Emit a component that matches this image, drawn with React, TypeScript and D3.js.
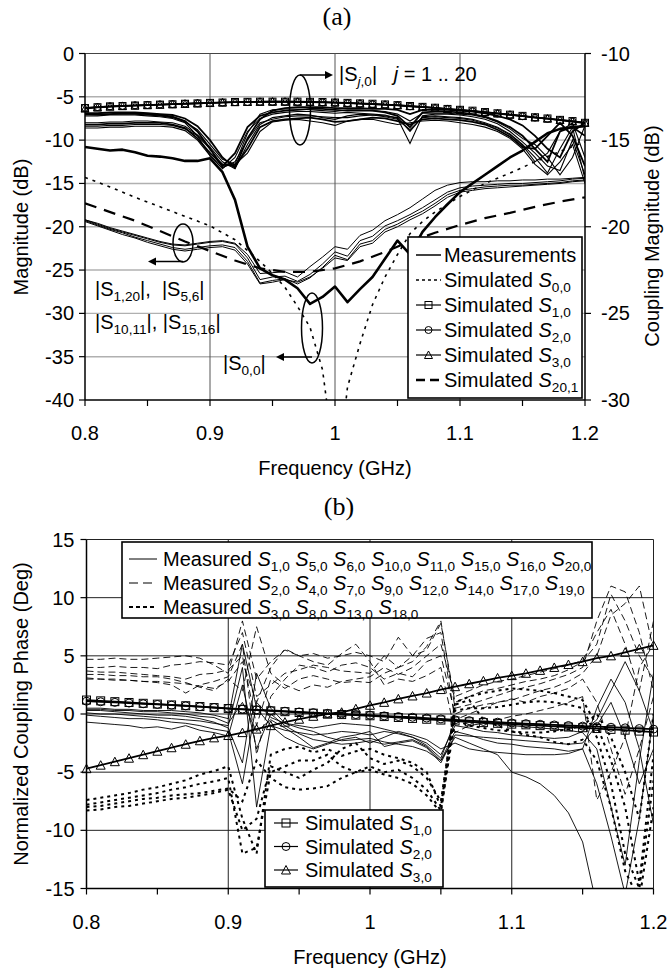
import * as d3 from 'd3'

// frequency grid (GHz)
const FREQ = [0.80, 0.81, 0.82, 0.83, 0.84, 0.85, 0.86, 0.87, 0.88, 0.89, 0.90, 0.91, 0.92, 0.93, 0.94, 0.95, 0.96, 0.97, 0.98, 0.99, 1.00,
  1.01, 1.02, 1.03, 1.04, 1.05, 1.06, 1.07, 1.08, 1.09, 1.10, 1.11, 1.12, 1.13, 1.14, 1.15, 1.16, 1.17, 1.18, 1.19, 1.20]
const FREQ_TICKS = [0.8, 0.9, 1.0, 1.1, 1.2]
const FREQ_LABELS = ['0.8', '0.9', '1', '1.1', '1.2']
const FREQ_MINOR = [0.8, 0.85, 0.9, 0.95, 1.0, 1.05, 1.1, 1.15, 1.2]
const MAG_TICKS = [0, -5, -10, -15, -20, -25, -30, -35, -40]
const COUPLING_TICKS = [-10, -15, -20, -25, -30]
const PHASE_TICKS = [15, 10, 5, 0, -5, -10, -15]

// ---- (a) magnitude, left axis (dB)
const MEAS_S00 = [-10.8, -11.0, -11.2, -11.1, -11.4, -11.8, -11.9, -12.1, -12.4, -12.4, -12.1, -13.7, -16.9, -22.3, -24.8, -25.6, -26.1, -27.1, -28.9, -28.1, -26.9,
  -28.7, -27.2, -25.8, -23.7, -21.6, -23.2, -20.6, -18.9, -17.4, -16.0, -15.0, -14.0, -13.0, -12.0, -11.2, -10.2, -9.2, -8.7, -8.5, -8.4]
const MEAS_S1_20 = [-19.2, -19.7, -20.2, -20.6, -21.0, -21.4, -21.8, -22.1, -22.2, -22.0, -21.8, -21.7, -22.0, -23.6, -26.1, -25.8, -25.7, -26.3, -25.5, -24.3, -22.9,
  -23.4, -21.6, -21.1, -19.9, -19.3, -18.6, -17.8, -16.9, -16.0, -15.5, -15.3, -15.2, -15.1, -15.0, -15.0, -14.9, -14.8, -14.7, -14.5, -14.4]
const MEAS_S5_6 = [-19.3, -19.8, -20.3, -20.7, -21.2, -21.6, -22.0, -22.4, -22.6, -22.4, -22.2, -22.1, -22.4, -24.0, -26.5, -26.2, -26.0, -26.6, -25.9, -24.7, -23.3,
  -23.8, -22.0, -21.6, -20.3, -19.7, -18.9, -18.2, -17.3, -16.3, -15.8, -15.6, -15.4, -15.3, -15.2, -15.2, -15.1, -15.0, -14.9, -14.7, -14.6]
const MEAS_S10_11 = [-19.4, -19.9, -20.4, -20.9, -21.3, -21.8, -22.2, -22.6, -22.8, -22.6, -22.4, -22.3, -22.7, -24.3, -26.6, -26.4, -26.1, -26.4, -25.8, -24.8, -23.6,
  -23.9, -22.3, -21.9, -20.6, -20.0, -19.2, -18.5, -17.6, -16.6, -16.0, -15.8, -15.6, -15.5, -15.4, -15.3, -15.2, -15.1, -15.0, -14.8, -14.7]
const MEAS_S15_16 = [-19.2, -19.6, -20.1, -20.5, -20.9, -21.3, -21.7, -22.0, -22.1, -21.9, -21.7, -21.6, -21.9, -23.2, -25.4, -25.3, -25.2, -25.8, -24.6, -23.5, -22.3,
  -22.6, -21.0, -20.4, -19.3, -18.6, -17.8, -16.8, -15.8, -15.2, -14.9, -14.8, -14.8, -14.7, -14.7, -14.6, -14.6, -14.5, -14.5, -14.4, -14.3]
const SIM_S00_FREQ = [0.80, 0.82, 0.84, 0.86, 0.88, 0.90, 0.92, 0.94, 0.95, 0.96, 0.97, 0.98, 0.99, 0.995, 1.00, 1.005, 1.01, 1.02, 1.03, 1.04, 1.05, 1.06, 1.07, 1.08, 1.10, 1.12, 1.14, 1.16, 1.18, 1.20]
const SIM_S00 = [-14.3, -15.4, -16.6, -17.7, -18.8, -19.9, -21.5, -24.0, -25.4, -27.0, -29.2, -31.6, -36.5, -42.0, -55.0, -45.0, -38.5, -33.5, -29.0, -25.8, -23.2, -20.8, -19.4, -18.3, -16.5, -15.0, -13.8, -12.5, -11.3, -10.2]
const SIM_S20_1_FREQ = [0.80, 0.84, 0.86, 0.88, 0.90, 0.92, 0.94, 0.96, 0.98, 1.00, 1.02, 1.04, 1.06, 1.08, 1.10, 1.12, 1.14, 1.16, 1.18, 1.20]
const SIM_S20_1 = [-17.3, -19.3, -20.5, -21.7, -22.8, -23.9, -24.8, -25.2, -25.2, -24.8, -24.0, -22.9, -21.7, -20.7, -19.8, -19.0, -18.4, -17.7, -17.1, -16.6]

// ---- (a) coupling magnitude, right axis (dB)
const SIM_C10 = [-13.15, -13.1, -13.05, -13.03, -13.0, -12.98, -12.95, -12.93, -12.9, -12.88, -12.85, -12.83, -12.8, -12.79, -12.78, -12.78, -12.78, -12.78, -12.79, -12.8, -12.83,
  -12.85, -12.88, -12.9, -12.94, -12.98, -13.03, -13.08, -13.13, -13.2, -13.25, -13.3, -13.38, -13.45, -13.53, -13.6, -13.68, -13.75, -13.83, -13.9, -14.0]
const SIM_C20 = [-13.13, -13.09, -13.05, -13.02, -12.99, -12.97, -12.94, -12.92, -12.89, -12.87, -12.85, -12.83, -12.81, -12.8, -12.79, -12.79, -12.79, -12.8, -12.81, -12.82, -12.84,
  -12.87, -12.9, -12.93, -12.96, -13.0, -13.05, -13.1, -13.15, -13.21, -13.27, -13.33, -13.4, -13.47, -13.54, -13.62, -13.7, -13.77, -13.85, -13.93, -14.02]
const SIM_C30 = [-13.18, -13.12, -13.07, -13.04, -13.01, -12.98, -12.96, -12.93, -12.91, -12.88, -12.86, -12.83, -12.81, -12.8, -12.79, -12.78, -12.78, -12.79, -12.8, -12.81, -12.83,
  -12.86, -12.89, -12.92, -12.95, -12.99, -13.04, -13.09, -13.14, -13.2, -13.26, -13.32, -13.39, -13.46, -13.53, -13.61, -13.69, -13.76, -13.84, -13.92, -14.0]
const MEAS_C_A = [-13.45, -13.45, -13.4, -13.4, -13.4, -13.45, -13.5, -13.55, -13.75, -14.2, -15.0, -16.0, -16.6, -14.9, -13.8, -13.3, -13.15, -13.1, -13.1, -13.1, -13.15,
  -13.15, -13.15, -13.2, -13.2, -13.25, -13.5, -13.25, -13.25, -13.25, -13.3, -13.35, -13.45, -13.6, -13.8, -14.15, -14.75, -15.5, -16.0, -14.5, -14.0]
const MEAS_C_B = [-13.5, -13.5, -13.5, -13.45, -13.45, -13.5, -13.55, -13.65, -13.9, -14.5, -15.5, -16.5, -15.75, -14.25, -13.6, -13.4, -13.3, -13.25, -13.2, -13.2, -13.25,
  -13.3, -13.3, -13.3, -13.4, -13.6, -14.25, -13.4, -13.35, -13.35, -13.4, -13.5, -13.65, -13.9, -14.25, -14.75, -15.5, -16.25, -14.5, -14.25, -14.75]
const MEAS_C_C = [-13.6, -13.6, -13.55, -13.55, -13.55, -13.6, -13.65, -13.75, -14.0, -14.75, -15.9, -16.65, -16.0, -14.5, -13.75, -13.5, -13.4, -13.35, -13.35, -13.4, -13.45,
  -13.4, -13.45, -13.5, -13.55, -13.75, -15.2, -13.6, -13.5, -13.5, -13.55, -13.65, -13.8, -14.05, -14.5, -15.1, -15.75, -16.5, -16.75, -15.0, -17.0]
const MEAS_C_D = [-14.0, -14.0, -13.95, -13.95, -13.9, -13.9, -13.95, -14.0, -14.2, -14.7, -15.4, -16.25, -16.65, -15.25, -14.1, -13.7, -13.6, -13.5, -13.55, -13.7, -13.8,
  -13.6, -13.5, -13.55, -13.6, -13.7, -14.5, -13.65, -13.6, -13.65, -13.7, -13.8, -14.0, -14.25, -14.65, -15.25, -16.0, -16.9, -15.5, -14.25, -17.25]
const MEAS_C_E = [-14.1, -14.1, -14.05, -14.05, -14.0, -14.0, -14.0, -14.1, -14.3, -14.9, -15.75, -16.4, -16.5, -15.5, -14.25, -13.9, -13.8, -13.75, -13.7, -13.8, -13.95,
  -13.9, -13.8, -13.7, -13.75, -13.9, -14.1, -13.8, -13.75, -13.8, -13.85, -13.95, -14.1, -14.4, -14.8, -15.4, -15.5, -14.75, -14.0, -14.75, -16.5]
const MEAS_C_F = [-14.2, -14.2, -14.15, -14.15, -14.1, -14.1, -14.1, -14.15, -14.35, -14.75, -15.5, -16.6, -16.25, -15.0, -14.0, -13.8, -13.65, -13.6, -13.6, -13.65, -13.7,
  -13.7, -13.6, -13.55, -13.65, -13.8, -14.4, -13.7, -13.65, -13.7, -13.75, -13.85, -14.05, -14.3, -14.7, -15.3, -16.25, -15.75, -14.5, -14.0, -16.0]
const MEAS_C_G = [-14.3, -14.3, -14.25, -14.25, -14.2, -14.2, -14.2, -14.25, -14.45, -15.0, -15.9, -16.5, -16.4, -15.75, -14.5, -13.95, -13.85, -13.8, -13.9, -14.0, -14.15,
  -13.9, -13.8, -13.8, -13.95, -14.1, -14.0, -13.9, -13.85, -13.9, -14.0, -14.1, -14.25, -14.5, -14.9, -15.5, -16.4, -17.0, -16.25, -15.25, -17.5]
const MEAS_C_H = [-13.5, -13.55, -13.5, -13.5, -13.5, -13.55, -13.6, -13.7, -13.95, -14.4, -15.25, -16.1, -16.4, -14.6, -13.5, -13.25, -13.2, -13.2, -13.25, -13.3, -13.35,
  -13.25, -13.25, -13.3, -13.35, -13.5, -13.9, -13.45, -13.45, -13.45, -13.5, -13.55, -13.7, -13.95, -14.35, -14.9, -15.25, -16.0, -17.0, -16.0, -14.15]

// ---- (b) normalized coupling phase (deg)
const SIM_P10 = [1.20, 1.13, 1.06, 0.99, 0.92, 0.85, 0.78, 0.71, 0.64, 0.55, 0.47, 0.40, 0.33, 0.27, 0.20, 0.13, 0.07, 0.01, -0.05, -0.10, -0.15,
  -0.22, -0.30, -0.38, -0.45, -0.52, -0.60, -0.67, -0.74, -0.80, -0.87, -0.93, -1.00, -1.06, -1.12, -1.18, -1.25, -1.32, -1.39, -1.47, -1.55]
const SIM_P20 = [1.10, 1.05, 1.00, 0.94, 0.88, 0.82, 0.76, 0.70, 0.63, 0.56, 0.49, 0.42, 0.36, 0.30, 0.24, 0.18, 0.12, 0.06, 0.00, -0.05, -0.10,
  -0.16, -0.22, -0.28, -0.35, -0.42, -0.50, -0.57, -0.64, -0.70, -0.77, -0.83, -0.88, -0.94, -0.99, -1.04, -1.09, -1.14, -1.19, -1.25, -1.30]
const SIM_P30 = [-4.7, -4.4, -4.1, -3.8, -3.5, -3.2, -2.9, -2.6, -2.3, -2.05, -1.85, -1.6, -1.3, -1.0, -0.7, -0.45, -0.2, 0.0, 0.15, 0.45, 0.75,
  1.0, 1.3, 1.55, 1.8, 2.1, 2.35, 2.6, 2.85, 3.1, 3.3, 3.5, 3.75, 4.0, 4.25, 4.5, 4.8, 5.0, 5.3, 5.6, 5.9]
const SOLID_1 = [0.5, 0.5, 0.4, 0.4, 0.3, 0.3, 0.3, 0.2, 0.1, -0.1, -0.4, 6.0, 0.5, -1.0, -1.4, -1.6, -1.8, -1.7, -1.5, -1.6, -1.8,
  -1.5, -1.7, -2.0, -2.5, -3.5, -1.0, -1.2, -1.5, -1.6, -1.8, -1.9, -2.0, -2.1, -2.0, -1.5, -0.5, 2.0, 4.5, 2.0, -1.5]
const SOLID_2 = [0.3, 0.3, 0.2, 0.1, 0.0, -0.1, -0.1, -0.2, -0.4, -0.7, -1.2, -4.2, 3.5, 0.5, -0.8, -1.2, -1.5, -2.0, -2.3, -2.2, -2.1,
  -2.4, -2.6, -2.8, -3.2, -4.0, -1.5, -1.8, -2.2, -2.5, -2.6, -2.8, -2.9, -3.0, -3.2, -3.0, -6.0, -10.5, -15.5, -9.0, 0.0]
const SOLID_3 = [0.1, 0.0, 0.0, -0.1, -0.2, -0.3, -0.4, -0.5, -0.6, -0.8, -1.0, 4.0, -8.0, -1.0, -2.0, -2.6, -3.0, -2.6, -2.2, -2.0, -2.5,
  -2.0, -1.5, -1.8, -2.2, -3.0, -2.5, -3.0, -3.2, -3.3, -3.4, -3.5, -3.5, -3.5, -3.4, -3.0, 0.5, 3.0, 1.0, -3.0, -9.5]
const SOLID_4 = [-0.1, -0.2, -0.3, -0.4, -0.4, -0.5, -0.7, -0.8, -1.0, -1.3, -1.5, -6.0, 1.0, -0.3, -0.8, -1.0, -1.2, -1.0, -0.8, -0.9, -1.0,
  -1.3, -1.6, -2.0, -2.7, -3.8, -0.6, -0.7, -0.8, -0.9, -1.0, -1.1, -1.2, -1.3, -1.4, -1.6, -3.0, -8.0, -13.0, -4.0, 3.5]
const SOLID_5 = [-0.7, -0.8, -0.9, -1.0, -1.2, -1.1, -1.3, -1.0, -1.4, -1.6, -1.9, 2.5, -3.0, 0.0, -1.0, -1.7, -2.2, -2.4, -2.6, -2.5, -2.3,
  -2.6, -2.4, -2.2, -2.8, -4.0, -2.0, -2.5, -3.0, -3.5, -5.0, -5.4, -6.0, -7.0, -8.5, -11.0, -16.5, -18.0, -20.0, -22.0, -22.0]
const SOLID_6 = [0.4, 0.4, 0.3, 0.3, 0.2, 0.2, 0.1, 0.0, -0.2, -0.3, -0.8, 1.0, -1.5, -0.5, -1.2, -2.0, -2.9, -2.5, -2.0, -1.8, -1.5,
  -2.8, -2.5, -2.3, -2.9, -4.2, -1.8, -1.9, -2.0, -2.1, -2.2, -2.3, -2.4, -2.5, -2.6, -2.5, -1.0, 1.0, -2.0, -6.0, -3.0]
const LDASH_1 = [4.7, 4.7, 4.8, 4.7, 4.7, 4.8, 4.9, 5.0, 4.8, 4.2, 3.5, 8.0, 3.0, 4.5, 5.5, 5.0, 5.2, 4.8, 5.0, 5.3, 5.0,
  4.5, 6.6, 5.0, 5.5, 7.8, 1.0, 1.5, 2.0, 2.2, 2.5, 2.8, 3.0, 3.3, 3.8, 4.5, 6.0, 10.3, 8.0, 5.0, 3.0]
const LDASH_2 = [4.0, 4.0, 4.1, 4.0, 4.0, 3.9, 4.2, 4.3, 4.5, 4.4, 4.2, 7.0, 1.5, 2.5, 3.5, 3.8, 4.2, 4.0, 3.7, 3.6, 3.5,
  5.0, 4.0, 4.5, 5.8, 8.0, 0.5, 0.8, 1.2, 1.6, 2.0, 2.3, 2.6, 3.0, 3.4, 4.0, 8.0, 11.0, 10.5, 7.0, 2.0]
const LDASH_3 = [3.7, 3.6, 3.6, 3.5, 3.4, 3.3, 3.2, 3.0, 3.4, 3.5, 3.8, 5.0, -1.0, 3.0, 2.2, 3.0, 3.3, 3.0, 2.7, 2.8, 2.7,
  3.5, 4.0, 5.0, 6.5, 7.0, -0.5, 0.0, 0.5, 1.0, 1.2, 1.6, 2.0, 2.3, 2.8, 3.5, 5.0, 8.5, 9.5, 11.0, 5.5]
const LDASH_4 = [3.4, 3.4, 3.3, 3.3, 3.2, 3.2, 3.0, 2.7, 2.3, 2.0, 3.0, 2.0, 7.5, 3.5, 2.5, 2.0, 2.5, 2.3, 2.8, 3.0, 3.2,
  4.0, 3.4, 4.0, 5.0, 6.0, 1.5, 2.0, 2.5, 2.8, 3.0, 3.3, 3.6, 3.9, 4.2, 4.6, 7.0, 9.0, 6.0, 2.0, 8.0]
const LDASH_5 = [3.1, 3.0, 3.0, 2.9, 2.8, 2.7, 2.5, 1.8, 2.5, 2.8, 3.2, 6.0, -3.5, 1.5, 3.0, 4.2, 4.0, 3.6, 4.2, 4.4, 4.0,
  3.0, 3.5, 3.2, 4.5, 5.0, 0.0, 0.5, 0.8, 1.0, 1.3, 1.0, 1.5, 1.8, 2.2, 3.0, 1.0, -3.0, -6.9, -3.0, 1.5]
const LDASH_6 = [3.0, 3.0, 2.9, 2.9, 2.8, 2.8, 2.7, 2.6, 2.4, 2.2, 2.8, 4.5, 1.0, 4.0, 5.6, 5.0, 4.5, 4.2, 5.2, 6.0, 4.5,
  2.5, 3.0, 2.8, 3.3, 4.0, -1.6, -1.0, -0.8, -0.5, -0.2, 0.0, 0.3, 0.6, 1.0, 1.5, -7.4, -5.0, -2.0, 4.0, 6.0]
const SDASH_1 = [-7.4, -7.2, -7.0, -6.8, -6.5, -6.3, -6.0, -5.7, -5.2, -4.9, -4.5, -9.0, -12.0, -3.5, -3.0, -2.8, -3.3, -3.0, -3.6, -3.2, -3.0,
  -3.5, -3.8, -4.2, -5.0, -8.0, 1.0, 1.5, 1.8, 2.0, 2.2, 2.1, 2.0, 1.8, 1.5, 1.2, -1.0, -4.0, -8.0, -14.5, -3.5]
const SDASH_2 = [-7.8, -7.6, -7.4, -7.2, -7.0, -6.8, -6.5, -6.3, -6.0, -5.8, -5.5, -12.0, -11.5, -5.0, -4.5, -4.0, -4.0, -3.5, -4.5, -5.0, -4.8,
  -5.2, -5.5, -6.0, -7.0, -8.5, 0.3, 0.5, 0.5, 0.6, 0.8, 1.0, 1.1, 1.0, 0.8, 0.5, -2.0, -6.0, -12.0, -15.0, -5.7]
const SDASH_3 = [-8.0, -7.9, -7.7, -7.5, -7.3, -7.2, -7.0, -6.9, -6.8, -6.6, -6.4, -7.5, -4.0, -5.5, -6.3, -6.5, -6.4, -6.2, -5.5, -5.0, -4.5,
  -5.0, -4.8, -5.5, -6.5, -8.3, -0.5, -1.0, -1.2, -1.4, -1.5, -1.6, -1.6, -1.5, -1.3, -1.0, 0.0, -2.0, -5.0, -9.0, 0.0]
const SDASH_4 = [-8.3, -8.2, -8.0, -7.9, -7.7, -7.5, -7.3, -7.2, -7.0, -6.8, -6.5, -10.0, -9.0, -4.5, -5.0, -5.5, -4.8, -4.2, -3.0, -2.5, -3.8,
  -4.3, -4.0, -4.5, -5.5, -7.5, 0.8, 1.2, -0.5, -1.0, -1.5, -1.8, -2.0, -2.4, -2.6, -2.2, -4.0, -8.0, -13.5, -16.0, -8.0]

const LEGEND_SOLID_IDS = ['1,0', '5,0', '6,0', '10,0', '11,0', '15,0', '16,0', '20,0']
const LEGEND_LDASH_IDS = ['2,0', '4,0', '7,0', '9,0', '12,0', '14,0', '17,0', '19,0']
const LEGEND_SDASH_IDS = ['3,0', '8,0', '13,0', '18,0']

type Part = { t: string; it?: boolean; sub?: boolean }

function Rich({ x, y, parts, size = 20, anchor = 'start' }: { x: number; y: number; parts: Part[]; size?: number; anchor?: string }) {
  let shift = 0
  return (
    <text x={x} y={y} fontSize={size} textAnchor={anchor} style={{ whiteSpace: 'pre' }}>
      {parts.map((p, i) => {
        const target = p.sub ? size * 0.27 : 0
        const dy = target - shift
        shift = target
        return (
          <tspan key={i} dy={dy} fontStyle={p.it ? 'italic' : 'normal'} fontSize={p.sub ? size * 0.68 : size}>{p.t}</tspan>
        )
      })}
    </text>
  )
}

function Marker({ kind, x, y, s = 8 }: { kind: string; x: number; y: number; s?: number }) {
  const h = s / 2
  if (kind === 'square') return <rect x={x - h} y={y - h} width={s} height={s} fill="none" stroke="#000" strokeWidth={1} />
  if (kind === 'circle') return <circle cx={x} cy={y} r={h} fill="none" stroke="#000" strokeWidth={1} />
  return <path d={`M${x},${y - h - 0.5}L${x + h + 0.5},${y + h}L${x - h - 0.5},${y + h}Z`} fill="none" stroke="#000" strokeWidth={1} />
}

const measParts = (ids: string[]): Part[] => [
  { t: 'Measured ' },
  ...ids.flatMap((id, k) => [{ t: (k ? ' ' : '') + 'S', it: true }, { t: id, sub: true }]),
]

export default function App() {
  // panel (a)
  const xA = d3.scaleLinear().domain([0.8, 1.2]).range([85, 585])
  const yA = d3.scaleLinear().domain([-40, 0]).range([400, 53.5])
  const yA2 = d3.scaleLinear().domain([-30, -10]).range([400, 53.5])
  // panel (b)
  const xB = d3.scaleLinear().domain([0.8, 1.2]).range([86.5, 653.5])
  const yB = d3.scaleLinear().domain([-15, 15]).range([888.5, 539.5])

  const lineOn = (x: d3.ScaleLinear<number, number>, y: d3.ScaleLinear<number, number>, fs: number[] = FREQ) =>
    d3.line<number>().x((_, i) => x(fs[i])).y(d => y(d))

  const aMag = lineOn(xA, yA)
  const aCpl = lineOn(xA, yA2)
  const bPh = lineOn(xB, yB)

  const bundle = [MEAS_C_A, MEAS_C_B, MEAS_C_C, MEAS_C_D, MEAS_C_E, MEAS_C_F, MEAS_C_G, MEAS_C_H]
  const isolation = [MEAS_S1_20, MEAS_S5_6, MEAS_S10_11, MEAS_S15_16]
  const solids = [SOLID_1, SOLID_2, SOLID_3, SOLID_4, SOLID_5, SOLID_6]
  const ldashes = [LDASH_1, LDASH_2, LDASH_3, LDASH_4, LDASH_5, LDASH_6]
  const sdashes = [SDASH_1, SDASH_2, SDASH_3, SDASH_4]

  const simA = [
    { data: SIM_C10, kind: 'square' },
    { data: SIM_C20, kind: 'circle' },
    { data: SIM_C30, kind: 'triangle' },
  ]
  const simB = [
    { data: SIM_P10, kind: 'square' },
    { data: SIM_P20, kind: 'circle' },
    { data: SIM_P30, kind: 'triangle' },
  ]

  const [a0, a1] = xA.range()
  const [b0, b1] = xB.range()

  const legendA = [
    { label: [{ t: 'Measurements' }], dash: '', w: 1.5 },
    { label: [{ t: 'Simulated ' }, { t: 'S', it: true }, { t: '0,0', sub: true }], dash: '3,3', w: 1.5 },
    { label: [{ t: 'Simulated ' }, { t: 'S', it: true }, { t: '1,0', sub: true }], dash: '', w: 1.2, m: 'square' },
    { label: [{ t: 'Simulated ' }, { t: 'S', it: true }, { t: '2,0', sub: true }], dash: '', w: 1.2, m: 'circle' },
    { label: [{ t: 'Simulated ' }, { t: 'S', it: true }, { t: '3,0', sub: true }], dash: '', w: 1.2, m: 'triangle' },
    { label: [{ t: 'Simulated ' }, { t: 'S', it: true }, { t: '20,1', sub: true }], dash: '9,5', w: 2.5 },
  ]
  const legendB1 = [
    { label: measParts(LEGEND_SOLID_IDS), dash: '', w: 1 },
    { label: measParts(LEGEND_LDASH_IDS), dash: '9,5', w: 1.2 },
    { label: measParts(LEGEND_SDASH_IDS), dash: '4,3', w: 1.8 },
  ]
  const legendB2 = [
    { label: [{ t: 'Simulated ' }, { t: 'S', it: true }, { t: '1,0', sub: true }], m: 'square' },
    { label: [{ t: 'Simulated ' }, { t: 'S', it: true }, { t: '2,0', sub: true }], m: 'circle' },
    { label: [{ t: 'Simulated ' }, { t: 'S', it: true }, { t: '3,0', sub: true }], m: 'triangle' },
  ]

  return (
    <svg width={669} height={970} style={{ position: 'absolute', left: 0, top: 0, background: '#fff' }}
      fontFamily="'Liberation Sans', Arial, sans-serif" fill="#000">
      <defs>
        <clipPath id="clipA"><rect x={a0} y={yA(0)} width={a1 - a0} height={yA(-40) - yA(0)} /></clipPath>
        <clipPath id="clipB"><rect x={b0} y={yB(15)} width={b1 - b0} height={yB(-15) - yB(15)} /></clipPath>
      </defs>

      {/* ================= (a) ================= */}
      <text x={337} y={25} fontFamily="'Liberation Serif', 'Times New Roman', serif" fontSize={26} textAnchor="middle">(a)</text>

      {MAG_TICKS.filter(t => t !== 0 && t !== -40).map(t => (
        <line key={t} x1={a0} x2={a1} y1={yA(t)} y2={yA(t)} stroke="#b0b0b0" strokeWidth={1.4} />
      ))}
      <line x1={a0} x2={a1} y1={yA(0)} y2={yA(0)} stroke="#444" strokeWidth={1} />
      {FREQ_TICKS.slice(1, -1).map(f => (
        <line key={f} x1={xA(f)} x2={xA(f)} y1={yA(0)} y2={yA(-40)} stroke="#555" strokeWidth={1} />
      ))}

      <g clipPath="url(#clipA)" fill="none" stroke="#000">
        {bundle.map((d, i) => <path key={i} d={aCpl(d) ?? ''} strokeWidth={i < 2 || i === 4 ? 1.8 : 1.1} />)}
        {isolation.map((d, i) => <path key={i} d={aMag(d) ?? ''} strokeWidth={1} />)}
        <path d={aMag(MEAS_S00) ?? ''} strokeWidth={2.6} strokeLinejoin="round" />
        <path d={lineOn(xA, yA, SIM_S00_FREQ)(SIM_S00) ?? ''} strokeWidth={1.6} strokeDasharray="3,5" />
        <path d={lineOn(xA, yA, SIM_S20_1_FREQ)(SIM_S20_1) ?? ''} strokeWidth={2.2} strokeDasharray="12,8" />
        {simA.map((s, i) => <path key={i} d={aCpl(s.data) ?? ''} strokeWidth={1.6} />)}
      </g>
      <g>
        {simA.map(s => s.data.map((v, i) => <Marker key={s.kind + i} kind={s.kind} x={xA(FREQ[i])} y={yA2(v)} s={7} />))}
      </g>

      {/* axes (a) */}
      <line x1={a0} x2={a0} y1={yA(0)} y2={yA(-40)} stroke="#000" strokeWidth={1.5} />
      <line x1={a1} x2={a1} y1={yA(0)} y2={yA(-40)} stroke="#000" strokeWidth={1.5} />
      <line x1={a0} x2={a1} y1={yA(-40)} y2={yA(-40)} stroke="#000" strokeWidth={1.5} />
      {MAG_TICKS.map(t => (
        <g key={t}>
          <line x1={a0 - 6} x2={a0} y1={yA(t)} y2={yA(t)} stroke="#000" strokeWidth={1.2} />
          <text x={a0 - 11} y={yA(t) + 7} fontSize={20} textAnchor="end">{t}</text>
        </g>
      ))}
      {COUPLING_TICKS.map(t => (
        <g key={t}>
          <line x1={a1} x2={a1 + 6} y1={yA2(t)} y2={yA2(t)} stroke="#000" strokeWidth={1.2} />
          <text x={a1 + 16} y={yA2(t) + 7} fontSize={20}>{t}</text>
        </g>
      ))}
      {FREQ_MINOR.map(f => (
        <line key={f} x1={xA(f)} x2={xA(f)} y1={yA(-40)} y2={yA(-40) + 6} stroke="#000" strokeWidth={1.2} />
      ))}
      {FREQ_TICKS.map((f, i) => (
        <text key={f} x={xA(f)} y={440} fontSize={20} textAnchor="middle">{FREQ_LABELS[i]}</text>
      ))}
      <text x={(a0 + a1) / 2} y={475} fontSize={20} textAnchor="middle">Frequency (GHz)</text>
      <text transform="translate(28,227) rotate(-90)" fontSize={20} textAnchor="middle">Magnitude (dB)</text>
      <text transform="translate(659,236) rotate(-90)" fontSize={20} textAnchor="middle">Coupling Magnitude (dB)</text>

      {/* legend (a) */}
      <rect x={408} y={237} width={174} height={161} fill="#fff" stroke="#000" strokeWidth={1.6} />
      {legendA.map((e, i) => {
        const cy = 255 + i * 25
        return (
          <g key={i}>
            <line x1={416} x2={441} y1={cy} y2={cy} stroke="#000" strokeWidth={e.w} strokeDasharray={e.dash || undefined} />
            {e.m && <Marker kind={e.m} x={428.5} y={cy} s={7} />}
            <Rich x={444} y={cy + 7} parts={e.label} />
          </g>
        )
      })}

      {/* annotations (a) */}
      <g fill="none" stroke="#000" strokeWidth={1.5}>
        <ellipse cx={300} cy={110} rx={10.5} ry={35} />
        <line x1={300} x2={327} y1={75} y2={75} />
        <ellipse cx={183} cy={243} rx={10} ry={19} />
        <line x1={183} x2={154} y1={261.5} y2={261.5} />
        <ellipse cx={312} cy={328} rx={10.5} ry={35} />
        <line x1={312} x2={282} y1={357} y2={357} />
      </g>
      <path d="M333,75 L325,71 L325,79 Z" />
      <path d="M148,261.5 L156,257.5 L156,265.5 Z" />
      <path d="M276,357 L284,353 L284,361 Z" />
      <Rich x={339} y={81} parts={[{ t: '|S' }, { t: 'j', sub: true, it: true }, { t: ',0', sub: true }, { t: '|   ' }, { t: 'j', it: true }, { t: ' = 1 .. 20' }]} />
      <Rich x={95} y={296} parts={[{ t: '|S' }, { t: '1,20', sub: true }, { t: '|,  |S' }, { t: '5,6', sub: true }, { t: '|' }]} />
      <Rich x={95} y={329} parts={[{ t: '|S' }, { t: '10,11', sub: true }, { t: '|, |S' }, { t: '15,16', sub: true }, { t: '|' }]} />
      <Rich x={223} y={370} parts={[{ t: '|S' }, { t: '0,0', sub: true }, { t: '|' }]} />

      {/* ================= (b) ================= */}
      <text x={339} y={515} fontFamily="'Liberation Serif', 'Times New Roman', serif" fontSize={26} textAnchor="middle">(b)</text>

      {PHASE_TICKS.slice(0, -1).map(t => (
        <line key={t} x1={b0} x2={b1} y1={yB(t)} y2={yB(t)} stroke="#222" strokeWidth={1} />
      ))}
      {FREQ_TICKS.slice(1).map(f => (
        <line key={f} x1={xB(f)} x2={xB(f)} y1={yB(15)} y2={yB(-15)} stroke="#222" strokeWidth={1} />
      ))}

      <g clipPath="url(#clipB)" fill="none" stroke="#000">
        {solids.map((d, i) => <path key={'s' + i} d={bPh(d) ?? ''} strokeWidth={0.9} />)}
        {ldashes.map((d, i) => <path key={'l' + i} d={bPh(d) ?? ''} strokeWidth={0.9} strokeDasharray="7,4" />)}
        {sdashes.map((d, i) => <path key={'d' + i} d={bPh(d) ?? ''} strokeWidth={2} strokeDasharray="3,4" />)}
        {simB.map((s, i) => <path key={'m' + i} d={bPh(s.data) ?? ''} strokeWidth={1.8} />)}
      </g>
      <g>
        {simB.map(s => s.data.map((v, i) => <Marker key={s.kind + i} kind={s.kind} x={xB(FREQ[i])} y={yB(v)} s={8} />))}
      </g>

      <line x1={b0} x2={b0} y1={yB(15)} y2={yB(-15)} stroke="#000" strokeWidth={1.5} />
      <line x1={b0} x2={b1} y1={yB(-15)} y2={yB(-15)} stroke="#000" strokeWidth={1.5} />
      {PHASE_TICKS.map(t => (
        <g key={t}>
          <line x1={b0 - 6} x2={b0} y1={yB(t)} y2={yB(t)} stroke="#000" strokeWidth={1.2} />
          <text x={b0 - 12} y={yB(t) + 7} fontSize={20} textAnchor="end">{t}</text>
        </g>
      ))}
      {FREQ_MINOR.map(f => (
        <line key={f} x1={xB(f)} x2={xB(f)} y1={yB(-15)} y2={yB(-15) + 6} stroke="#000" strokeWidth={1.2} />
      ))}
      {FREQ_TICKS.map((f, i) => (
        <text key={f} x={xB(f)} y={929} fontSize={20} textAnchor="middle">{FREQ_LABELS[i]}</text>
      ))}
      <text x={(b0 + b1) / 2} y={964} fontSize={20} textAnchor="middle">Frequency (GHz)</text>
      <text transform="translate(28,714) rotate(-90)" fontSize={20} textAnchor="middle">Normalized Coupling Phase (Deg)</text>

      {/* legends (b) */}
      <rect x={122} y={542} width={470} height={76} fill="#fff" stroke="#000" strokeWidth={1.6} />
      {legendB1.map((e, i) => {
        const cy = 559 + i * 24
        return (
          <g key={i}>
            <line x1={129} x2={157} y1={cy} y2={cy} stroke="#000" strokeWidth={e.w} strokeDasharray={e.dash || undefined} />
            <Rich x={163} y={cy + 7} parts={e.label} />
          </g>
        )
      })}
      <rect x={265} y={810} width={178} height={77} fill="#fff" stroke="#000" strokeWidth={1.6} />
      {legendB2.map((e, i) => {
        const cy = 823 + i * 23.5
        return (
          <g key={i}>
            <line x1={274} x2={298} y1={cy} y2={cy} stroke="#000" strokeWidth={1.2} />
            <Marker kind={e.m} x={286} y={cy} s={8} />
            <Rich x={305} y={cy + 7} parts={e.label} />
          </g>
        )
      })}
    </svg>
  )
}
